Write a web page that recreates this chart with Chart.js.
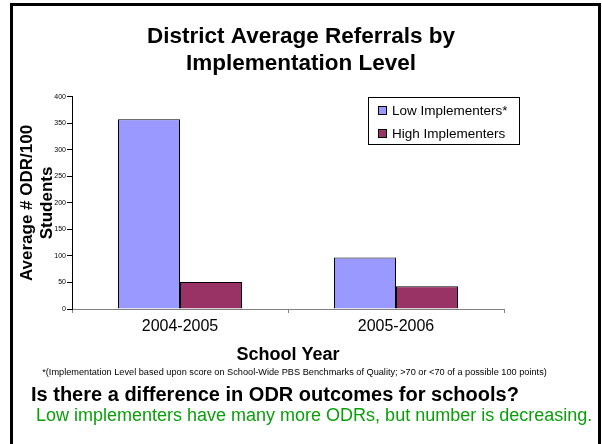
<!DOCTYPE html>
<html>
<head>
<meta charset="utf-8">
<script src="https://cdn.jsdelivr.net/npm/chart.js@4.4.1/dist/chart.umd.min.js"></script>
<style>
  html, body { margin: 0; padding: 0; background: #fff; }
  body { width: 602px; height: 444px; position: relative; overflow: hidden; font-family: "Liberation Sans", Arial, sans-serif; }
  .frame { position: absolute; left: 10px; top: 3px; width: 591px; height: 470px; box-sizing: border-box; border: 3px solid #000; }
  #odrChart { position: absolute; left: 0; top: 0; }
  .note { position: absolute; white-space: nowrap; color: #000; }
  .footnote { left: 0; width: 589px; top: 367px; text-align: center; font-size: 9.2px; }
  .question { left: 31px; top: 383px; font-size: 20px; font-weight: bold; }
  .answer { left: 36px; top: 405px; font-size: 18px; color: #0a9f0a; }
</style>
</head>
<body>
<div class="frame"></div>
<canvas id="odrChart" width="602" height="444"></canvas>
<div class="note footnote">*(Implementation Level based upon score on School-Wide PBS Benchmarks of Quality; &gt;70 or &lt;70 of a possible 100 points)</div>
<div class="note question">Is there a difference in ODR outcomes for schools?</div>
<div class="note answer">Low implementers have many more ODRs, but number is decreasing.</div>

<script>
const schoolYears = ["2004-2005", "2005-2006"];
const lowImplementers = [358, 97];
const highImplementers = [51, 43];
const seriesNames = ["Low Implementers*", "High Implementers"];

// small boxed legend sitting inside the plot, top right
const boxLegend = {
    id: "boxLegend",
    afterDraw(chart) {
        const ctx = chart.ctx;
        const x = 368, y = 97, w = 151, h = 47;
        ctx.save();
        ctx.fillStyle = "#fff";
        ctx.fillRect(x, y, w, h);
        ctx.strokeStyle = "#000";
        ctx.lineWidth = 1;
        ctx.strokeRect(x + 0.5, y + 0.5, w, h);
        ctx.font = "13.5px 'Liberation Sans', Arial, sans-serif";
        ctx.textBaseline = "middle";
        chart.data.datasets.forEach((ds, i) => {
            const cy = y + 13 + i * 23;
            ctx.fillStyle = ds.backgroundColor;
            ctx.fillRect(x + 10, cy - 4, 9, 9);
            ctx.strokeRect(x + 10.5, cy - 3.5, 8, 8);
            ctx.fillStyle = "#000";
            ctx.fillText(ds.label, x + 24, cy + 1);
        });
        ctx.restore();
    },
};

const fontFamily = "'Liberation Sans', Arial";

new Chart(document.getElementById("odrChart"), {
    type: "bar",
    data: {
        labels: schoolYears,
        datasets: [
            {
                label: seriesNames[0],
                data: lowImplementers,
                backgroundColor: "#9999ff",
                borderColor: "#000",
                borderWidth: 1,
            },
            {
                label: seriesNames[1],
                data: highImplementers,
                backgroundColor: "#993366",
                borderColor: "#000",
                borderWidth: 1,
            },
        ],
    },
    options: {
        responsive: false,
        animation: false,
        layout: { padding: 0 },
        datasets: {
            bar: { categoryPercentage: 0.574, barPercentage: 1 },
        },
        scales: {
            x: {
                afterFit(scale) { scale.height = 135; },
                grid: { drawOnChartArea: false, tickLength: 4, color: "#808080" },
                border: { color: "#808080" },
                ticks: { color: "#000", padding: 4, font: { size: 16, family: fontFamily } },
                title: {
                    display: true,
                    text: "School Year",
                    color: "#000",
                    font: { size: 18, weight: "bold", family: fontFamily },
                    padding: { top: 0, bottom: 78 },
                },
            },
            y: {
                min: 0,
                max: 400,
                afterFit(scale) { scale.width = 72; },
                grid: { drawOnChartArea: false, tickLength: 5, color: "#000" },
                border: { color: "#000" },
                ticks: { stepSize: 50, color: "#000", padding: 1, font: { size: 7, family: fontFamily } },
                title: {
                    display: true,
                    text: ["Average # ODR/100", "Students"],
                    color: "#000",
                    font: { size: 17, weight: "bold", family: fontFamily, lineHeight: 1.18 },
                    padding: { top: 17, bottom: 0 },
                },
            },
            // empty right-hand axis, only reserves room for the legend box
            yRight: {
                position: "right",
                min: 0,
                max: 400,
                afterFit(scale) { scale.width = 98; },
                grid: { display: false },
                border: { display: false },
                ticks: { display: false },
            },
        },
        plugins: {
            legend: { display: false },
            tooltip: { enabled: false },
            title: {
                display: true,
                text: ["District Average Referrals by", "Implementation Level"],
                color: "#000",
                font: { size: 22.5, weight: "bold", family: fontFamily, lineHeight: 1.22 },
                padding: { top: 23, bottom: 19 },
            },
        },
    },
    plugins: [boxLegend],
});
</script>
</body>
</html>
